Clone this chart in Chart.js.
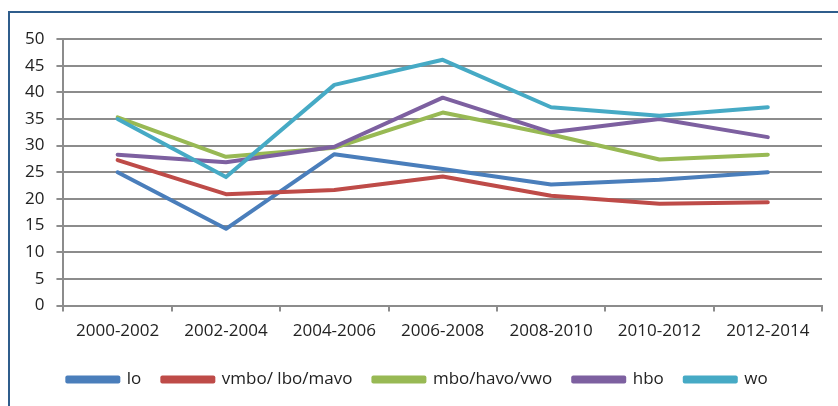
<!DOCTYPE html>
<html>
<head>
<meta charset="utf-8">
<script src="https://cdn.jsdelivr.net/npm/chart.js@4"></script>
<style>
  html, body { margin: 0; padding: 0; background: #fff; }
  #frame {
    position: absolute; left: 8px; top: 11px; width: 840px; height: 400px;
    border-left: 2px solid #2f5d8c; border-top: 2px solid #2f5d8c;
  }
  #wrap { position: absolute; left: 0; top: 0; width: 838px; height: 398px; }
</style>
</head>
<body>
<div id="frame"></div>
<div id="wrap"><canvas id="chart" width="838" height="398"></canvas></div>
<script>
// periods on the x axis
const periods = ["2000-2002", "2002-2004", "2004-2006", "2006-2008", "2008-2010", "2010-2012", "2012-2014"];

// series values
const lo = [25.0, 14.4, 28.4, 25.6, 22.7, 23.6, 25.0];
const vmbo = [27.3, 20.9, 21.7, 24.2, 20.6, 19.1, 19.4];
const mbo = [35.3, 27.9, 29.6, 36.2, 32.1, 27.4, 28.3];
const hbo = [28.3, 26.9, 29.8, 39.0, 32.5, 35.0, 31.6];
const wo = [35.0, 24.1, 41.4, 46.1, 37.2, 35.6, 37.2];

const seriesNames = ["lo", "vmbo/ lbo/mavo", "mbo/havo/vwo", "hbo", "wo"];
const seriesColors = ["#4a7ebb", "#be4b48", "#98b954", "#7d60a0", "#46aac5"];

const font = { family: "'Open Sans', sans-serif", size: 17 };

function makeSet(i, values) {
    return {
        label: seriesNames[i],
        data: values,
        borderColor: seriesColors[i],
        backgroundColor: seriesColors[i],
        borderWidth: 4,
        pointRadius: 0,
        tension: 0,
        borderCapStyle: "round",
        borderJoinStyle: "round",
        order: 5 - i   // later series on top, like the original
    };
}

new Chart(document.getElementById("chart"), {
    type: "line",
    data: {
        labels: periods,
        datasets: [makeSet(0, lo), makeSet(1, vmbo), makeSet(2, mbo), makeSet(3, hbo), makeSet(4, wo)]
    },
    options: {
        responsive: false,
        animation: false,
        layout: { padding: { left: 13, right: 16, top: 39, bottom: 0 } },
        plugins: {
            tooltip: { enabled: false },
            legend: {
                position: "bottom",
                labels: {
                    font: font,
                    color: "#222",
                    boxWidth: 51,
                    boxHeight: 4,
                    padding: 21,
                    sort: (a, b) => a.datasetIndex - b.datasetIndex
                }
            }
        },
        scales: {
            x: {
                offset: true,
                grid: {
                    offset: true,
                    drawOnChartArea: false,
                    drawTicks: true,
                    tickLength: 6,
                    color: "#8c8c8c",
                    lineWidth: 2
                },
                border: { color: "#8c8c8c", width: 2 },
                ticks: { font: font, color: "#222", padding: 9, maxRotation: 0 }
            },
            y: {
                min: 0,
                max: 50,
                ticks: { stepSize: 5, font: font, color: "#222", padding: 12 },
                grid: { color: "#8c8c8c", lineWidth: 2, tickLength: 7 },
                border: { color: "#8c8c8c", width: 2 }
            }
        }
    }
});
</script>
</body>
</html>
